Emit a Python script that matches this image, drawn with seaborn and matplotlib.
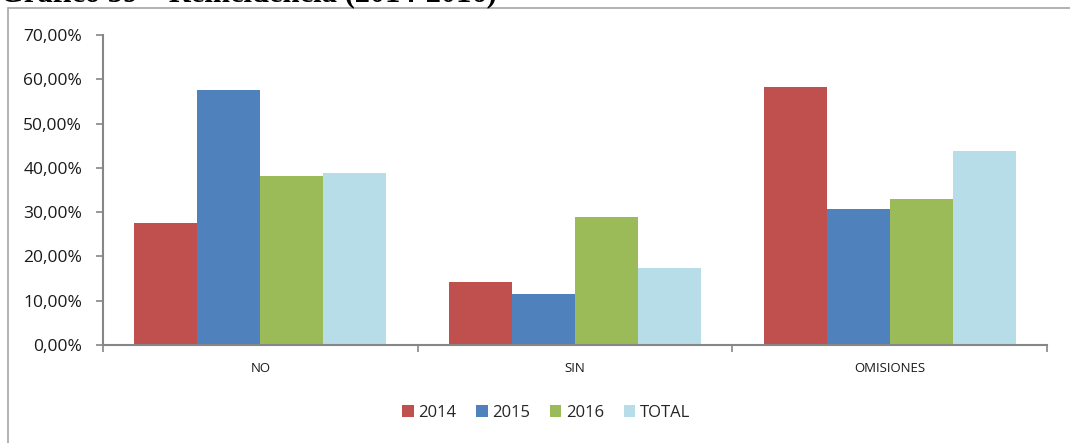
import matplotlib
matplotlib.use("Agg")
import matplotlib.pyplot as plt
from matplotlib.lines import Line2D
from matplotlib.ticker import FuncFormatter, FixedLocator
import seaborn as sns
import pandas as pd

# Data
categories = ["NO", "SIN", "OMISIONES"]
series_names = ["2014", "2015", "2016", "TOTAL"]
values_2014 = [27.5, 14.2, 58.2]
values_2015 = [57.6, 11.5, 30.7]
values_2016 = [38.1, 28.9, 32.9]
values_total = [38.8, 17.4, 43.8]
y_ticks = [0, 10, 20, 30, 40, 50, 60, 70]

colors = ["#C0504D", "#4F81BD", "#9BBB59", "#B7DEE8"]

rows = []
for name, vals in zip(series_names, [values_2014, values_2015, values_2016, values_total]):
    for cat, v in zip(categories, vals):
        rows.append({"categoria": cat, "serie": name, "valor": v})
df = pd.DataFrame(rows)

sns.set_theme(style="white")
plt.rcParams["font.family"] = ["Open Sans", "DejaVu Sans"]

fig = plt.figure(figsize=(10.70, 4.43), dpi=100)
ax = fig.add_axes([103 / 1070, 1 - 345 / 443, (1047 - 103) / 1070, (345 - 35) / 443])

sns.barplot(data=df, x="categoria", y="valor", hue="serie", order=categories,
            hue_order=series_names, palette=colors, width=0.8, gap=0,
            saturation=1, errorbar=None, ax=ax, edgecolor="none", linewidth=0)

ax.set_xlim(-0.5, 2.5)
ax.set_ylim(0, 70)
ax.yaxis.set_major_locator(FixedLocator(y_ticks))
ax.yaxis.set_major_formatter(FuncFormatter(lambda v, p: f"{v:.2f}%".replace(".", ",")))
ax.set_xlabel("")
ax.set_ylabel("")

axis_gray = "#868686"
for side in ["top", "right"]:
    ax.spines[side].set_visible(False)
for side in ["left", "bottom"]:
    ax.spines[side].set_color(axis_gray)
    ax.spines[side].set_linewidth(1.5)

ax.tick_params(axis="y", which="major", direction="out", length=5, width=1.2,
               color=axis_gray, left=True, labelsize=12.5, labelcolor="#1a1a1a", pad=10)
ax.tick_params(axis="x", which="major", length=0, labelsize=9.5, labelcolor="#1a1a1a", pad=12)
ax.xaxis.set_minor_locator(FixedLocator([-0.5, 0.5, 1.5, 2.5]))
ax.tick_params(axis="x", which="minor", direction="out", length=5, width=1.2,
               color=axis_gray, bottom=True)

handles, labels = ax.get_legend_handles_labels()
ax.legend(handles, labels, loc="center", bbox_to_anchor=(546 / 1070, 1 - 413 / 443),
          bbox_transform=fig.transFigure, ncol=4, frameon=False, fontsize=12,
          handlelength=0.7, handleheight=0.7, handletextpad=0.25, columnspacing=1.2)

# Outer chart frame
frame_gray = "#A6A6A6"
fig.add_artist(Line2D([7.5 / 1070, 1.0], [1 - 8 / 443, 1 - 8 / 443],
                      transform=fig.transFigure, color=frame_gray, linewidth=1.2))
fig.add_artist(Line2D([7.5 / 1070, 7.5 / 1070], [0, 1 - 8 / 443],
                      transform=fig.transFigure, color=frame_gray, linewidth=1.2))

# Caption above the chart
fig.text(0.0, 1 - 1.5 / 443, "Gráfico 59 – Reincidencia (2014-2016)", ha="left",
         va="baseline", fontsize=22, fontweight="bold",
         family=["Liberation Serif", "DejaVu Serif"], color="#000000")

fig.savefig("out.png", dpi=100)
